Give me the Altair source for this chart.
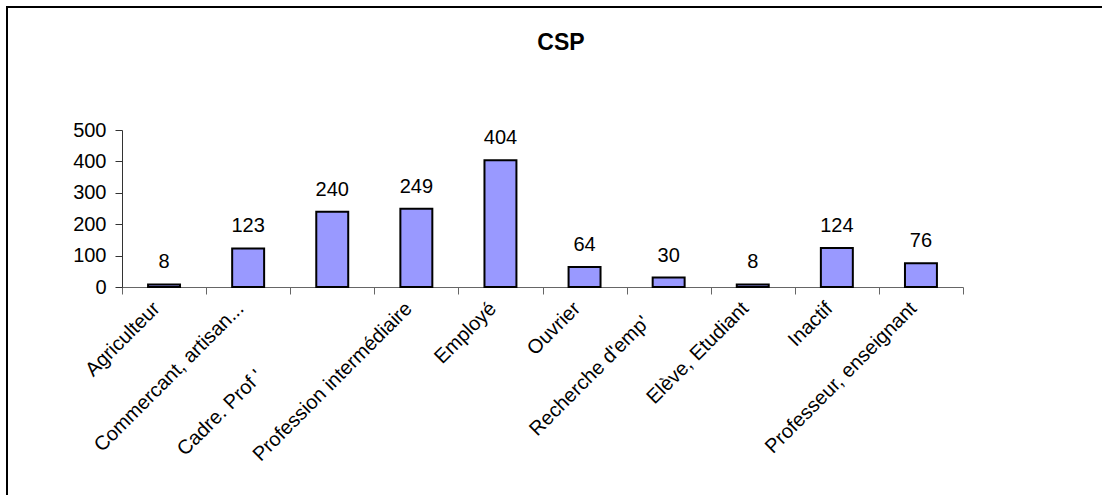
import altair as alt
import pandas as pd

categories = [
    "Agriculteur",
    "Commercant, artisan...",
    "Cadre. Prof '",
    "Profession intermédiaire",
    "Employé",
    "Ouvrier",
    "Recherche d'emp'",
    "Elève, Etudiant",
    "Inactif",
    "Professeur, enseignant",
]
values = [8, 123, 240, 249, 404, 64, 30, 8, 124, 76]
y_ticks = [0, 100, 200, 300, 400, 500]
title_text = "CSP"

df = pd.DataFrame({"cat": categories, "val": values})
FONT = "Liberation Sans"
FS = 20

pad_expr = "datum.value === \"Cadre. Prof '\" ? 72 : (datum.value === \"Recherche d'emp'\" ? 18 : 4)"
off_expr = "datum.value === \"Cadre. Prof '\" ? -80 : (datum.value === \"Recherche d'emp'\" ? -30 : -15)"

x_axis = alt.Axis(
    title=None,
    labelAngle=-45,
    labelAlign="right",
    labelBaseline="top",
    labelFontSize=FS,
    labelFont=FONT,
    labelColor="black",
    labelPadding={"expr": pad_expr},
    labelOffset={"expr": off_expr},
    labelLimit=0,
    labelOverlap=False,
    tickBand="extent",
    tickSize=7,
    tickColor="#666666",
    domainColor="#666666",
    grid=False,
)
x_enc = alt.X(
    "cat:N",
    sort=categories,
    scale=alt.Scale(paddingInner=0, paddingOuter=0),
    axis=x_axis,
)
y_enc = alt.Y(
    "val:Q",
    scale=alt.Scale(domain=[0, 500], nice=False),
    axis=alt.Axis(
        title=None,
        values=y_ticks,
        labelFontSize=FS,
        labelFont=FONT,
        labelColor="black",
        labelPadding=9,
        labelOverlap=False,
        tickSize=7,
        tickColor="#333333",
        domainColor="#333333",
        grid=False,
    ),
)

frame_data = alt.Data(values=[{}])
border_top = alt.Chart(frame_data).mark_rule(color="black", strokeWidth=2).encode(
    x=alt.value(-116), x2=alt.value(1400), y=alt.value(-123)
)
border_left = alt.Chart(frame_data).mark_rule(color="black", strokeWidth=2).encode(
    x=alt.value(-115), y=alt.value(-124), y2=alt.value(700)
)

title = alt.Chart(alt.Data(values=[{"t": title_text}])).mark_text(
    fontSize=23, font=FONT, fontWeight="bold", color="black",
    align="center", baseline="alphabetic",
).encode(x=alt.value(439), y=alt.value(-80), text="t:N")

bars = alt.Chart(df).mark_bar(
    color="#9999FF", stroke="black", strokeWidth=2,
    width=alt.RelativeBandSize(0.38),
).encode(x=x_enc, y=y_enc)

labels = alt.Chart(df).mark_text(
    fontSize=FS, font=FONT, color="black", baseline="alphabetic", dy=-16
).encode(x=x_enc, y=y_enc, text="val:Q")

chart = alt.layer(border_top, border_left, title, bars, labels).properties(
    width=841,
    height=157,
    view=alt.ViewBackground(stroke="transparent", strokeWidth=0),
    autosize=alt.AutoSizeParams(type="none"),
    padding={"left": 122, "top": 130, "right": 139, "bottom": 208},
).configure_view(stroke="transparent", strokeWidth=0).configure(background="white")

chart.save("out.html", embed_options={"renderer": "svg", "actions": False})
